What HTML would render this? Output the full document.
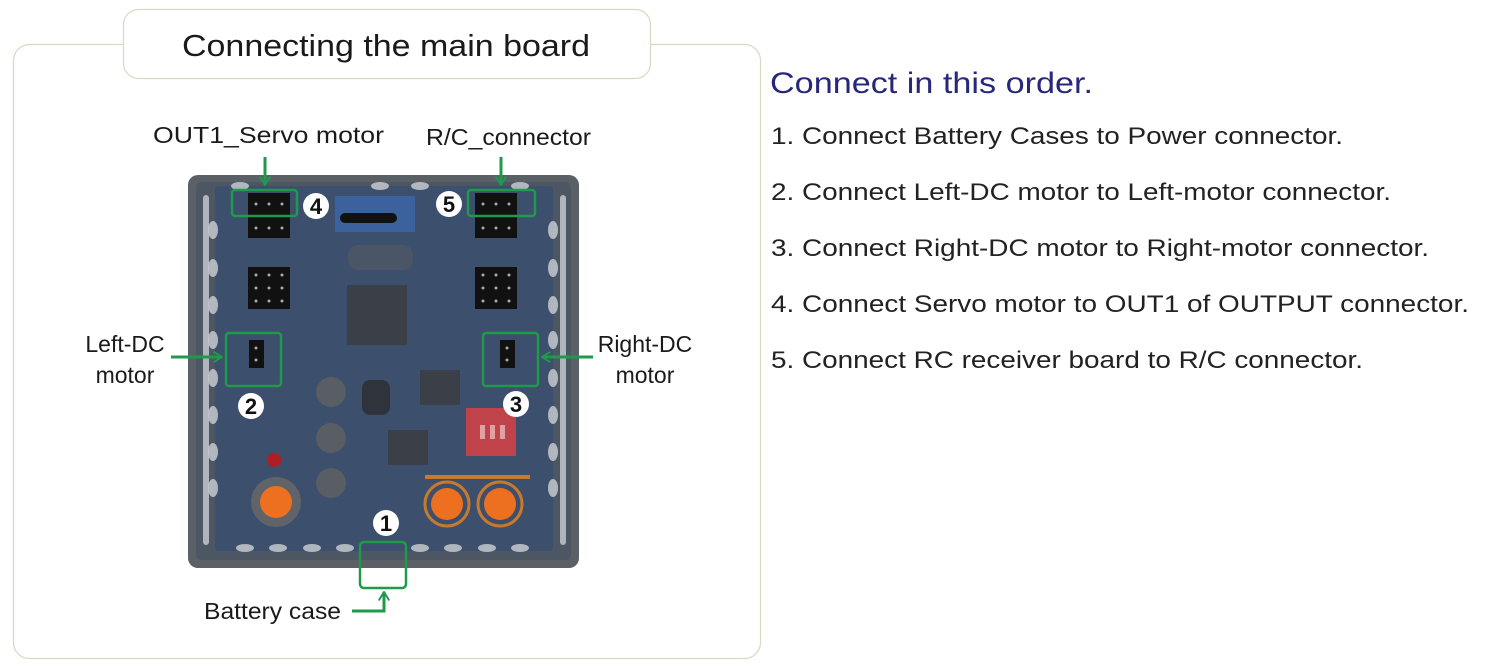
<!DOCTYPE html>
<html><head><meta charset="utf-8"><style>
html,body{margin:0;padding:0;background:#fff;}
svg{display:block;}
text{font-family:"Liberation Sans",Arial,sans-serif;}
</style></head><body>
<svg width="1496" height="672" viewBox="0 0 1496 672" xmlns="http://www.w3.org/2000/svg">
<defs>
<marker id="ah" viewBox="0 0 10 10" refX="8" refY="5" markerWidth="4" markerHeight="4" orient="auto" markerUnits="strokeWidth">
<path d="M1.5,1 L8,5 L1.5,9" fill="none" stroke="#1f9a4b" stroke-width="1.6" stroke-linecap="round" stroke-linejoin="round"/>
</marker>
</defs>
<!-- frame -->
<rect x="13.5" y="44.5" width="747" height="614" rx="16" fill="#fff" stroke="#d9d8c2" stroke-width="1.2"/>
<rect x="123.5" y="9.5" width="527" height="69" rx="15" fill="#fff" stroke="#d9d8c2" stroke-width="1.2"/>
<text x="386" y="56" font-size="31" text-anchor="middle" fill="#1a1a1a" textLength="408" lengthAdjust="spacingAndGlyphs">Connecting the main board</text>

<!-- board -->
<rect x="188" y="175" width="391" height="393" rx="10" fill="#5b5f66"/>
<rect x="196" y="182" width="375" height="378" rx="6" fill="#4d5663"/>
<rect x="215" y="186" width="338" height="365" rx="4" fill="#3c4f6d"/>
<g fill="#c9ccd2" opacity="0.8">
<rect x="203" y="195" width="6" height="350" rx="3"/>
<rect x="560" y="195" width="6" height="350" rx="3"/>
</g>
<g fill="#c5c8ce" opacity="0.85">
<ellipse cx="213" cy="230" rx="5" ry="9"/><ellipse cx="213" cy="268" rx="5" ry="9"/><ellipse cx="213" cy="305" rx="5" ry="9"/><ellipse cx="213" cy="340" rx="5" ry="9"/><ellipse cx="213" cy="378" rx="5" ry="9"/><ellipse cx="213" cy="415" rx="5" ry="9"/><ellipse cx="213" cy="452" rx="5" ry="9"/><ellipse cx="213" cy="488" rx="5" ry="9"/>
<ellipse cx="553" cy="230" rx="5" ry="9"/><ellipse cx="553" cy="268" rx="5" ry="9"/><ellipse cx="553" cy="305" rx="5" ry="9"/><ellipse cx="553" cy="340" rx="5" ry="9"/><ellipse cx="553" cy="378" rx="5" ry="9"/><ellipse cx="553" cy="415" rx="5" ry="9"/><ellipse cx="553" cy="452" rx="5" ry="9"/><ellipse cx="553" cy="488" rx="5" ry="9"/>
<ellipse cx="245" cy="548" rx="9" ry="4"/><ellipse cx="278" cy="548" rx="9" ry="4"/><ellipse cx="312" cy="548" rx="9" ry="4"/><ellipse cx="345" cy="548" rx="9" ry="4"/><ellipse cx="420" cy="548" rx="9" ry="4"/><ellipse cx="453" cy="548" rx="9" ry="4"/><ellipse cx="487" cy="548" rx="9" ry="4"/><ellipse cx="520" cy="548" rx="9" ry="4"/>
<ellipse cx="240" cy="186" rx="9" ry="4"/><ellipse cx="380" cy="186" rx="9" ry="4"/><ellipse cx="420" cy="186" rx="9" ry="4"/><ellipse cx="520" cy="186" rx="9" ry="4"/>
</g>
<!-- connectors -->
<g fill="#111">
<rect x="248" y="193" width="42" height="45"/>
<rect x="475" y="193" width="42" height="45"/>
<rect x="248" y="267" width="42" height="42"/>
<rect x="475" y="267" width="42" height="42"/>
<rect x="249" y="340" width="15" height="28"/>
<rect x="500" y="340" width="15" height="28"/>
</g>
<g fill="#aaa">
<circle cx="256" cy="204" r="1.5"/><circle cx="269" cy="204" r="1.5"/><circle cx="282" cy="204" r="1.5"/>
<circle cx="256" cy="228" r="1.5"/><circle cx="269" cy="228" r="1.5"/><circle cx="282" cy="228" r="1.5"/>
<circle cx="483" cy="204" r="1.5"/><circle cx="496" cy="204" r="1.5"/><circle cx="509" cy="204" r="1.5"/>
<circle cx="483" cy="228" r="1.5"/><circle cx="496" cy="228" r="1.5"/><circle cx="509" cy="228" r="1.5"/>
<circle cx="256" cy="275" r="1.5"/><circle cx="269" cy="275" r="1.5"/><circle cx="282" cy="275" r="1.5"/>
<circle cx="256" cy="288" r="1.5"/><circle cx="269" cy="288" r="1.5"/><circle cx="282" cy="288" r="1.5"/>
<circle cx="256" cy="301" r="1.5"/><circle cx="269" cy="301" r="1.5"/><circle cx="282" cy="301" r="1.5"/>
<circle cx="483" cy="275" r="1.5"/><circle cx="496" cy="275" r="1.5"/><circle cx="509" cy="275" r="1.5"/>
<circle cx="483" cy="288" r="1.5"/><circle cx="496" cy="288" r="1.5"/><circle cx="509" cy="288" r="1.5"/>
<circle cx="483" cy="301" r="1.5"/><circle cx="496" cy="301" r="1.5"/><circle cx="509" cy="301" r="1.5"/>
<circle cx="256" cy="348" r="1.5"/><circle cx="256" cy="360" r="1.5"/>
<circle cx="507" cy="348" r="1.5"/><circle cx="507" cy="360" r="1.5"/>
</g>
<rect x="335" y="196" width="80" height="36" fill="#3b67a8" opacity="0.8"/>
<rect x="340" y="213" width="57" height="10" rx="5" fill="#111"/>
<rect x="348" y="245" width="65" height="25" rx="10" fill="#4a5566"/>
<rect x="347" y="285" width="60" height="60" fill="#3a3f48"/>
<rect x="420" y="370" width="40" height="35" fill="#3a3f48"/>
<rect x="388" y="430" width="40" height="35" fill="#3a3f48"/>
<rect x="362" y="380" width="28" height="35" rx="8" fill="#2f343c"/>
<circle cx="331" cy="392" r="15" fill="#595d64"/>
<circle cx="331" cy="438" r="15" fill="#595d64"/>
<circle cx="331" cy="483" r="15" fill="#595d64"/>
<rect x="466" y="408" width="50" height="48" fill="#c0434b"/>
<g fill="#e0a0a4"><rect x="480" y="425" width="5" height="14"/><rect x="490" y="425" width="5" height="14"/><rect x="500" y="425" width="5" height="14"/></g>
<circle cx="274" cy="460" r="7" fill="#b01d22"/>
<circle cx="276" cy="502" r="25" fill="#606368"/>
<circle cx="276" cy="502" r="16" fill="#ec701f"/>
<path d="M425 477 L530 477" stroke="#c77a2c" stroke-width="4"/>
<circle cx="447" cy="504" r="22" fill="none" stroke="#c77a2c" stroke-width="3"/>
<circle cx="500" cy="504" r="22" fill="none" stroke="#c77a2c" stroke-width="3"/>
<circle cx="447" cy="504" r="16" fill="#ec701f"/>
<circle cx="500" cy="504" r="16" fill="#ec701f"/>

<!-- green boxes -->
<g fill="none" stroke="#1f9a4b" stroke-width="2.5">
<rect x="232" y="190" width="65" height="26" rx="3"/>
<rect x="468" y="190" width="67" height="26" rx="3"/>
<rect x="226" y="333" width="55" height="53" rx="3"/>
<rect x="483" y="333" width="55" height="53" rx="3"/>
<rect x="360" y="542" width="46" height="46" rx="4"/>
</g>
<!-- arrows -->
<g stroke="#1f9a4b" stroke-width="3" fill="none" marker-end="url(#ah)">
<line x1="265" y1="157" x2="265" y2="185"/>
<line x1="501" y1="157" x2="501" y2="185"/>
<line x1="171" y1="357" x2="222" y2="357"/>
<line x1="593" y1="357" x2="542" y2="357"/>
<polyline points="352,611 384,611 384,592"/>
</g>
<!-- number circles -->
<g fill="#fff">
<circle cx="316" cy="206" r="13"/><circle cx="449" cy="204" r="13"/>
<circle cx="251" cy="406" r="13"/><circle cx="516" cy="404" r="13"/>
<circle cx="386" cy="523" r="13"/>
</g>
<g font-size="22" font-weight="bold" fill="#111" text-anchor="middle">
<text x="316" y="214">4</text><text x="449" y="212">5</text>
<text x="251" y="414">2</text><text x="516" y="412">3</text>
<text x="386" y="531">1</text>
</g>
<!-- labels -->
<g font-size="23" fill="#1a1a1a">
<text x="153" y="143" textLength="231" lengthAdjust="spacingAndGlyphs">OUT1_Servo motor</text>
<text x="426" y="145" textLength="165" lengthAdjust="spacingAndGlyphs">R/C_connector</text>
<text x="125" y="352" text-anchor="middle">Left-DC</text>
<text x="125" y="383" text-anchor="middle">motor</text>
<text x="645" y="352" text-anchor="middle">Right-DC</text>
<text x="645" y="383" text-anchor="middle">motor</text>
<text x="204" y="619" textLength="137" lengthAdjust="spacingAndGlyphs">Battery case</text>
</g>
<!-- right text -->
<text x="770" y="93" font-size="30" fill="#27287a" textLength="323" lengthAdjust="spacingAndGlyphs">Connect in this order.</text>
<g font-size="24" fill="#222">
<text x="771" y="144" textLength="572" lengthAdjust="spacingAndGlyphs">1. Connect Battery Cases to Power connector.</text>
<text x="771" y="200" textLength="620" lengthAdjust="spacingAndGlyphs">2. Connect Left-DC motor to Left-motor connector.</text>
<text x="771" y="256" textLength="658" lengthAdjust="spacingAndGlyphs">3. Connect Right-DC motor to Right-motor connector.</text>
<text x="771" y="312" textLength="698" lengthAdjust="spacingAndGlyphs">4. Connect Servo motor to OUT1 of OUTPUT connector.</text>
<text x="771" y="368" textLength="592" lengthAdjust="spacingAndGlyphs">5. Connect RC receiver board to R/C connector.</text>
</g>
</svg>
</body></html>
